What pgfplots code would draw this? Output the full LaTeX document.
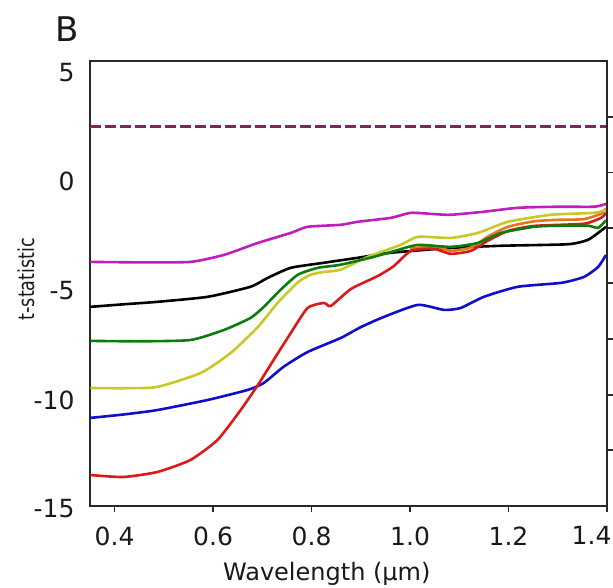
\documentclass[border=0pt]{standalone}
\usepackage{pgfplots}
\pgfplotsset{compat=1.18}
\usepackage{fontspec}
\setmainfont{DejaVu Sans}
\definecolor{cmag}{RGB}{190,30,190}
\definecolor{cgreen}{RGB}{10,125,10}
\definecolor{cyel}{RGB}{200,200,40}
\definecolor{cblue}{RGB}{15,15,200}
\definecolor{cred}{RGB}{220,25,25}
\definecolor{corange}{RGB}{225,120,30}
\definecolor{cdash}{RGB}{135,35,90}
\definecolor{cframe}{RGB}{40,40,40}
\begin{document}
\begin{tikzpicture}
\useasboundingbox (-90pt,-81pt) rectangle (523pt,506pt);
\begin{axis}[
  name=ax,
  scale only axis, width=517pt, height=445pt,
  xmin=0.35, xmax=1.4, ymin=-15, ymax=5.4,
  axis line style={line width=1.5pt, cframe},
  xtick={0.4,0.6,0.8,1.0,1.2}, xticklabels={0.4,0.6,0.8,1.0,1.2},
  extra x ticks={1.4}, extra x tick labels={1.4},
  extra x tick style={xticklabel style={anchor=north east, xshift=8pt}},
  xtick pos=bottom, tick align=outside,
  major tick length=6pt,
  x tick style={line width=1.5pt, cframe},
  ytick={-15,-10,-5,0,5}, yticklabels={-15,-10,-5,0,5},
  ytick pos=left, y tick style={draw=none},
  ticklabel style={font=\fontsize{25}{30}\selectfont, text=black!90},
  yticklabel style={xshift=-6pt, yshift=-3pt},
  xticklabel style={yshift=-11pt},
  xlabel={Wavelength (μm)},
  xlabel style={at={(axis description cs:0.458,0)}, anchor=base, yshift=-74pt, font=\fontsize{24}{29}\selectfont, text=black!90},
  ylabel={\scalebox{0.8}[1]{t-statistic}},
  ylabel style={at={(axis description cs:-0.124,0.51)}, anchor=center, font=\fontsize{22}{26}\selectfont, text=black!90},
  every axis plot/.append style={line width=2.6pt, smooth, tension=0.35},
  clip=true,
]
\addplot[cdash, line width=2.5pt, sharp plot, dash pattern=on 11pt off 4pt] coordinates {(0.35,2.39)(1.4,2.39)};
\addplot[cmag] coordinates {(0.351,-3.81)(0.45,-3.83)(0.554,-3.81)(0.622,-3.49)(0.691,-2.94)(0.758,-2.48)(0.792,-2.20)(0.859,-2.11)(0.894,-1.97)(0.961,-1.79)(1.002,-1.56)(1.05,-1.62)(1.083,-1.65)(1.150,-1.51)(1.219,-1.33)(1.30,-1.28)(1.374,-1.28)(1.398,-1.15)};
\addplot[black] coordinates {(0.351,-5.87)(0.42,-5.75)(0.487,-5.64)(0.589,-5.41)(0.676,-4.95)(0.711,-4.54)(0.758,-4.08)(0.825,-3.85)(0.894,-3.62)(0.961,-3.39)(1.083,-3.17)(1.185,-3.07)(1.321,-3.00)(1.361,-2.8)(1.382,-2.48)(1.398,-2.2)};
\addplot[cblue] coordinates {(0.351,-10.96)(0.42,-10.8)(0.487,-10.60)(0.589,-10.14)(0.670,-9.68)(0.703,-9.36)(0.743,-8.62)(0.792,-7.94)(0.859,-7.3)(0.90,-6.8)(0.947,-6.33)(1.016,-5.78)(1.069,-6.01)(1.103,-5.92)(1.150,-5.41)(1.219,-4.95)(1.307,-4.77)(1.353,-4.50)(1.382,-4.04)(1.398,-3.49)};
\addplot[corange] coordinates {(1.0,-3.2)(1.05,-3.1)(1.083,-3.3)(1.124,-3.15)(1.158,-2.65)(1.199,-2.2)(1.252,-1.95)(1.30,-1.88)(1.353,-1.85)(1.388,-1.6)(1.398,-1.35)};
\addplot[cred] coordinates {(0.351,-13.58)(0.418,-13.67)(0.487,-13.44)(0.554,-12.89)(0.609,-11.97)(0.656,-10.60)(0.691,-9.45)(0.723,-8.30)(0.758,-7.06)(0.792,-5.92)(0.825,-5.69)(0.839,-5.83)(0.880,-5.05)(0.935,-4.45)(0.967,-4.0)(1.002,-3.3)(1.048,-3.21)(1.083,-3.44)(1.124,-3.30)(1.158,-2.84)(1.199,-2.39)(1.252,-2.16)(1.353,-2.06)(1.388,-1.79)(1.398,-1.56)};
\addplot[cyel] coordinates {(0.351,-9.59)(0.42,-9.6)(0.487,-9.54)(0.575,-8.90)(0.636,-7.98)(0.691,-6.79)(0.731,-5.69)(0.772,-4.75)(0.798,-4.40)(0.825,-4.27)(0.859,-4.17)(0.914,-3.58)(0.981,-3.03)(1.016,-2.66)(1.083,-2.71)(1.138,-2.48)(1.199,-1.97)(1.286,-1.65)(1.374,-1.56)(1.398,-1.42)};
\addplot[cgreen] coordinates {(0.351,-7.43)(0.45,-7.45)(0.554,-7.39)(0.622,-6.93)(0.676,-6.38)(0.703,-5.87)(0.737,-5.09)(0.772,-4.40)(0.813,-4.08)(0.859,-3.94)(0.926,-3.58)(0.97,-3.3)(1.016,-3.03)(1.083,-3.12)(1.138,-2.94)(1.185,-2.48)(1.252,-2.2)(1.30,-2.15)(1.361,-2.15)(1.382,-2.25)(1.398,-1.9)};
\end{axis}
\node[font=\fontsize{34}{40}\selectfont, anchor=center, text=black!90] at ([xshift=-22.5pt, yshift=31.5pt]ax.north west) {B};
\begin{axis}[
  scale only axis, width=517pt, height=445pt,
  xmin=0.35, xmax=1.4, ymin=-15, ymax=5.4,
  axis x line=none, axis y line*=right,
  axis line style={line width=1.5pt, cframe},
  ytick={2.84,0.28,-2.25,-4.77,-7.34,-9.91,-12.43}, yticklabels={},
  tick align=outside, major tick length=6pt,
  y tick style={line width=1.5pt, cframe},
]
\end{axis}
\end{tikzpicture}
\end{document}
